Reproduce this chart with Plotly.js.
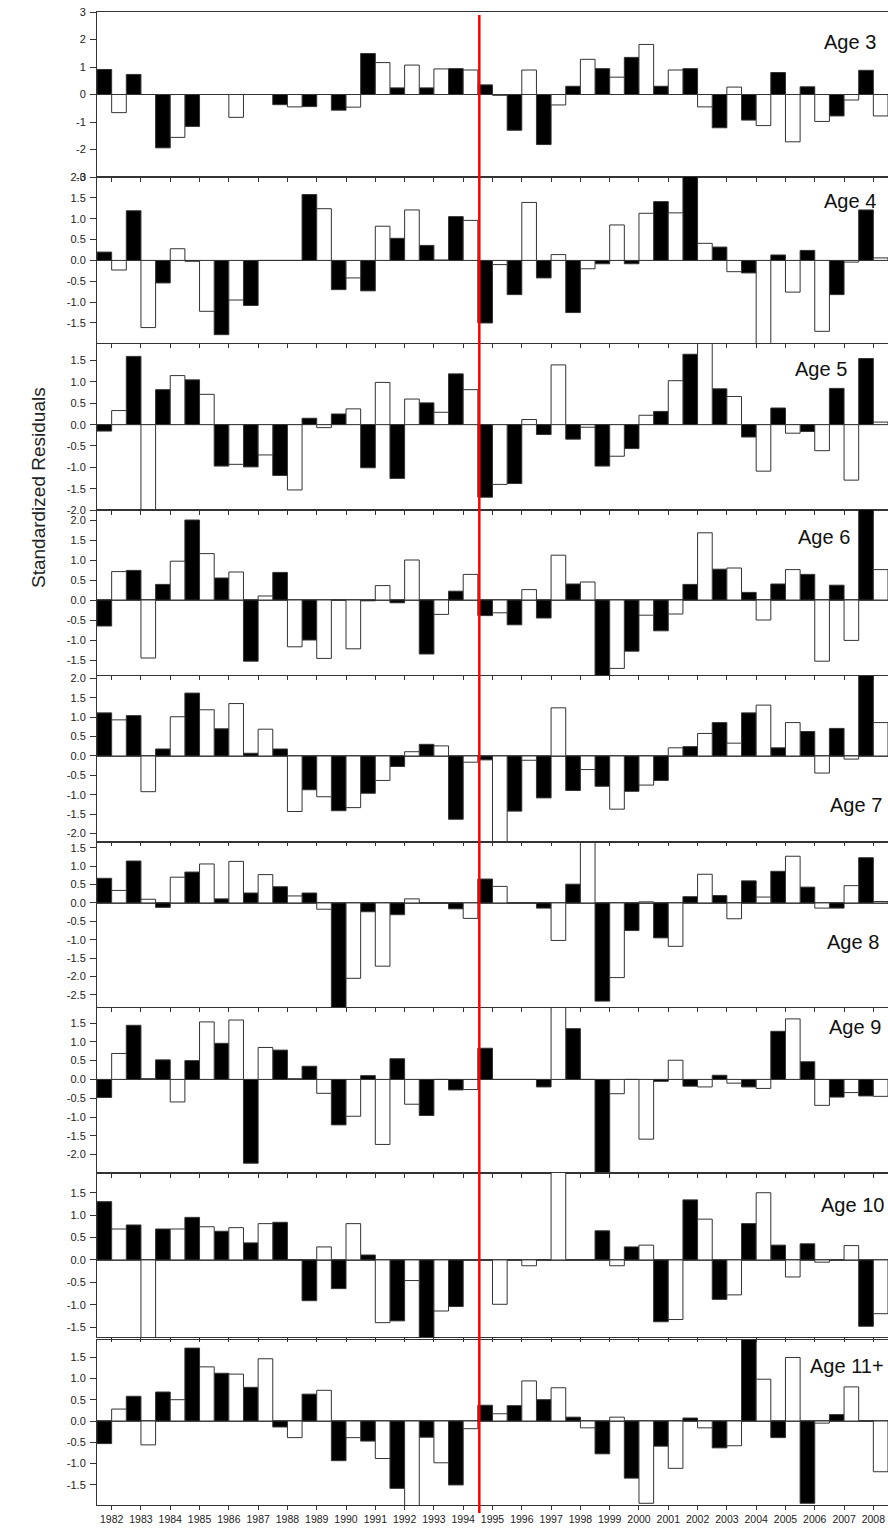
<!DOCTYPE html>
<html>
<head>
<meta charset="utf-8">
<script src="https://cdn.plot.ly/plotly-3.0.1.min.js"></script>
<style>
html,body{margin:0;padding:0;background:#ffffff;}
#chart{width:888px;height:1530px;}
</style>
</head>
<body>
<div id="chart"></div>
<script>
// ---------------- DATA ----------------
const years = [1982,1983,1984,1985,1986,1987,1988,1989,1990,1991,1992,1993,1994,1995,1996,1997,1998,1999,2000,2001,2002,2003,2004,2005,2006,2007,2008];
const yearLabels = ["1982","1983","1984","1985","1986","1987","1988","1989","1990","1991","1992","1993","1994","1995","1996","1997","1998","1999","2000","2001","2002","2003","2004","2005","2006","2007","2008"];
const ageLabels = ["Age 3","Age 4","Age 5","Age 6","Age 7","Age 8","Age 9","Age 10","Age 11+"];
const yAxisTitle = "Standardized Residuals";
const breakYear = 1994.5;

const age3Black = [0.91,0.73,-1.94,-1.16,0,0,-0.37,-0.44,-0.57,1.49,0.24,0.24,0.94,0.35,-1.3,-1.82,0.3,0.94,1.35,0.3,0.94,-1.21,-0.93,0.8,0.28,-0.78,0.88];
const age3White = [-0.66,0,-1.56,0,-0.83,0,-0.45,0,-0.46,1.16,1.07,0.93,0.89,-0.03,0.89,-0.38,1.28,0.63,1.82,0.89,-0.45,0.27,-1.13,-1.72,-0.98,-0.2,-0.78];

const age4Black = [0.2,1.19,-0.54,-0.02,-1.78,-1.08,0,1.58,-0.7,-0.73,0.53,0.36,1.05,-1.5,-0.82,-0.42,-1.25,-0.08,-0.08,1.41,2.1,0.32,-0.3,0.13,0.24,-0.82,1.21];
const age4White = [-0.23,-1.61,0.28,-1.22,-0.95,0,0,1.24,-0.42,0.82,1.21,0.01,0.96,-0.1,1.39,0.14,-0.2,0.85,1.13,1.14,0.41,-0.27,-2.1,-0.76,-1.7,-0.04,0.06];

const age5Black = [-0.15,1.6,0.82,1.05,-0.97,-0.99,-1.19,0.15,0.25,-1.01,-1.26,0.51,1.19,-1.7,-1.38,-0.23,-0.34,-0.97,-0.56,0.31,1.65,0.84,-0.29,0.39,-0.16,0.85,1.55];
const age5White = [0.33,-2.1,1.15,0.71,-0.93,-0.71,-1.53,-0.07,0.37,0.99,0.6,0.29,0.82,-1.4,0.12,1.4,-0.06,-0.74,0.22,1.03,1.95,0.66,-1.09,-0.2,-0.61,-1.3,0.06];

const age6Black = [-0.65,0.74,0.39,2.0,0.55,-1.53,0.69,-1.0,0,-0.02,-0.07,-1.35,0.22,-0.39,-0.62,-0.45,0.4,-2.1,-1.28,-0.77,0.39,0.77,0.19,0.4,0.64,0.37,2.4];
const age6White = [0.71,-1.45,0.97,1.16,0.7,0.1,-1.17,-1.46,-1.22,0.36,1.0,-0.36,0.64,-0.32,0.26,1.12,0.45,-1.71,-0.38,-0.35,1.68,0.8,-0.5,0.76,-1.53,-1.01,0.76];

const age7Black = [1.11,1.04,0.18,1.62,0.7,0.07,0.18,-0.87,-1.41,-0.96,-0.27,0.3,-1.63,-0.1,-1.42,-1.08,-0.89,-0.78,-0.91,-0.63,0.24,0.86,1.11,0.21,0.63,0.71,2.2];
const age7White = [0.93,-0.92,1.01,1.19,1.35,0.69,-1.43,-1.05,-1.33,-0.63,0.11,0.26,-0.16,-2.3,-0.11,1.24,-0.35,-1.37,-0.75,0.21,0.58,0.33,1.31,0.86,-0.44,-0.08,0.86];

const age8Black = [0.67,1.14,-0.12,0.84,0.11,0.27,0.44,0.27,-3.0,-0.24,-0.32,0,-0.16,0.65,0,-0.14,0.51,-2.67,-0.75,-0.95,0.17,0.2,0.6,0.86,0.43,-0.14,1.23];
const age8White = [0.34,0.1,0.7,1.06,1.13,0.77,0.19,-0.17,-2.05,-1.72,0.11,0,-0.42,0.45,0,-1.02,1.75,-2.03,0.03,-1.18,0.78,-0.43,0.16,1.27,-0.14,0.47,0.04];

const age9Black = [-0.48,1.44,0.52,0.5,0.96,-2.23,0.78,0.35,-1.21,0.1,0.55,-0.96,-0.28,0.83,0,-0.2,1.35,-2.6,0,-0.05,-0.18,0.11,-0.2,1.28,0.47,-0.47,-0.44];
const age9White = [0.69,0.02,-0.6,1.53,1.58,0.85,0.02,-0.37,-0.98,-1.73,-0.66,0,-0.27,0,0,2.0,0,-0.38,-1.59,0.51,-0.2,-0.1,-0.24,1.61,-0.69,-0.35,-0.45];

const age10Black = [1.3,0.78,0.69,0.95,0.64,0.38,0.84,-0.91,-0.64,0.11,-1.36,-1.85,-1.04,0,0,0,0,0.65,0.29,-1.38,1.34,-0.88,0.81,0.33,0.36,0,-1.48];
const age10White = [0.69,-1.85,0.69,0.74,0.72,0.81,0,0.29,0.81,-1.4,-0.46,-1.14,0,-0.99,-0.13,2.0,0,-0.13,0.33,-1.33,0.91,-0.78,1.5,-0.38,-0.05,0.32,-1.2];

const age11Black = [-0.53,0.58,0.68,1.71,1.12,0.79,-0.14,0.63,-0.93,-0.47,-1.58,-0.38,-1.5,0.37,0.36,0.5,0.09,-0.77,-1.34,-0.59,0.07,-0.63,1.95,-0.39,-1.93,0.15,0];
const age11White = [0.28,-0.56,0.5,1.27,1.1,1.46,-0.39,0.72,-0.39,-0.88,-2.0,-0.98,-0.18,0.17,0.94,0.78,-0.16,0.09,-1.93,-1.11,-0.16,-0.58,0.98,1.49,-0.05,0.8,-1.19];

// tick values of each panel's y axis
const ticksAge3 = [-3,-2,-1,0,1,2,3];
const ticksAge4 = [-1.5,-1,-0.5,0,0.5,1,1.5,2];
const ticksAge5 = [-2,-1.5,-1,-0.5,0,0.5,1,1.5];
const ticksAge6 = [-1.5,-1,-0.5,0,0.5,1,1.5,2];
const ticksAge7 = [-2,-1.5,-1,-0.5,0,0.5,1,1.5,2];
const ticksAge8 = [-2.5,-2,-1.5,-1,-0.5,0,0.5,1,1.5];
const ticksAge9 = [-2,-1.5,-1,-0.5,0,0.5,1,1.5];
const ticksAge10 = [-1.5,-1,-0.5,0,0.5,1,1.5];
const ticksAge11 = [-1.5,-1,-0.5,0,0.5,1,1.5];

// ---------------- LAYOUT GEOMETRY ----------------
const W = 888, H = 1530, ML = 97;
const PW = W - ML;
const FONT = "Liberation Sans, Arial, Helvetica, sans-serif";

const blackSeries = [age3Black,age4Black,age5Black,age6Black,age7Black,age8Black,age9Black,age10Black,age11Black];
const whiteSeries = [age3White,age4White,age5White,age6White,age7White,age8White,age9White,age10White,age11White];
const tickSets = [ticksAge3,ticksAge4,ticksAge5,ticksAge6,ticksAge7,ticksAge8,ticksAge9,ticksAge10,ticksAge11];

// pixel geometry of the 9 stacked panels
const panels = [
  {top:12,  bottom:177,  range:[-3,3],        dec:0, lab:{right:878, cy:42}},
  {top:177, bottom:343,  range:[-1.98,2.0],   dec:1, lab:{right:878, cy:201}},
  {top:344, bottom:510,  range:[-2.0,1.89],   dec:1, lab:{right:849, cy:369}},
  {top:510, bottom:675,  range:[-1.875,2.25], dec:1, lab:{right:852, cy:537}},
  {top:676, bottom:841,  range:[-2.19,2.06],  dec:1, lab:{right:884, cy:805}},
  {top:843, bottom:1007, range:[-2.83,1.63],  dec:1, lab:{right:881, cy:942}},
  {top:1008,bottom:1173, range:[-2.49,1.9],   dec:1, lab:{right:883, cy:1027}},
  {top:1173,bottom:1337, range:[-1.72,1.94],  dec:1, lab:{right:886, cy:1205}},
  {top:1340,bottom:1505, range:[-1.97,1.9],   dec:1, lab:{right:886, cy:1366}}
];

const fmt = (v, d) => { const s = Math.abs(v).toFixed(d); return (v < 0 ? "-" : "") + s; };

const data = [];
const layout = {
  width: W, height: H,
  margin: {l: ML, r: 0, t: 0, b: 0, pad: 0},
  paper_bgcolor: "#ffffff",
  plot_bgcolor: "rgba(0,0,0,0)",
  showlegend: false,
  font: {family: FONT, color: "#222222", size: 11},
  annotations: [],
  shapes: []
};

panels.forEach((p, i) => {
  const n = i === 0 ? "" : String(i + 1);
  const xa = "x" + n, ya = "y" + n;
  data.push({
    type: "bar", x: years, y: blackSeries[i], xaxis: xa, yaxis: ya,
    width: 0.5, offset: -0.5,
    marker: {color: "#000000", line: {color: "#333333", width: 1}},
    hoverinfo: "x+y"
  });
  data.push({
    type: "bar", x: years, y: whiteSeries[i], xaxis: xa, yaxis: ya,
    width: 0.5, offset: 0,
    marker: {color: "#ffffff", line: {color: "#333333", width: 1}},
    hoverinfo: "x+y"
  });
  layout["xaxis" + n] = {
    domain: [0, 1], anchor: ya, range: [1981.5, 2008.5],
    showline: true, linecolor: "#333333", linewidth: 1, mirror: true,
    ticks: "outside", ticklen: 4, tickwidth: 1, tickcolor: "#333333",
    tickvals: years, ticktext: yearLabels,
    showticklabels: i === panels.length - 1,
    tickfont: {family: FONT, size: 10.5, color: "#222222"},
    showgrid: false, zeroline: false, automargin: false, fixedrange: true
  };
  const tv = tickSets[i];
  layout["yaxis" + n] = {
    domain: [1 - p.bottom / H, 1 - p.top / H], anchor: xa, range: p.range,
    showline: true, linecolor: "#333333", linewidth: 1, mirror: true,
    ticks: "outside", ticklen: 6, tickwidth: 1, tickcolor: "#333333",
    tickvals: tv, ticktext: tv.map(v => fmt(v, p.dec)),
    tickfont: {family: FONT, size: 11, color: "#222222"},
    ticklabelstandoff: 2,
    showgrid: false, zeroline: true, zerolinecolor: "#555555", zerolinewidth: 1.5,
    automargin: false, fixedrange: true
  };
  layout.annotations.push({
    text: ageLabels[i], xref: "paper", yref: "paper",
    x: (p.lab.right - ML) / PW, y: 1 - p.lab.cy / H,
    xanchor: "right", yanchor: "middle", showarrow: false,
    font: {family: FONT, size: 20, color: "#111111"}
  });
});

layout.annotations.push({
  text: yAxisTitle, xref: "paper", yref: "paper",
  x: (39 - ML) / PW, y: 1 - 488 / H,
  xanchor: "center", yanchor: "middle", textangle: -90, showarrow: false,
  font: {family: FONT, size: 19, color: "#222222"}
});

layout.shapes.push({
  type: "line", xref: "x", yref: "paper",
  x0: breakYear + 0.05, x1: breakYear + 0.05,
  y0: 1 - 1513 / H, y1: 1 - 15 / H,
  line: {color: "#ff0000", width: 2.5}, layer: "above"
});

Plotly.newPlot("chart", data, layout, {staticPlot: true, displayModeBar: false});
</script>
</body>
</html>
